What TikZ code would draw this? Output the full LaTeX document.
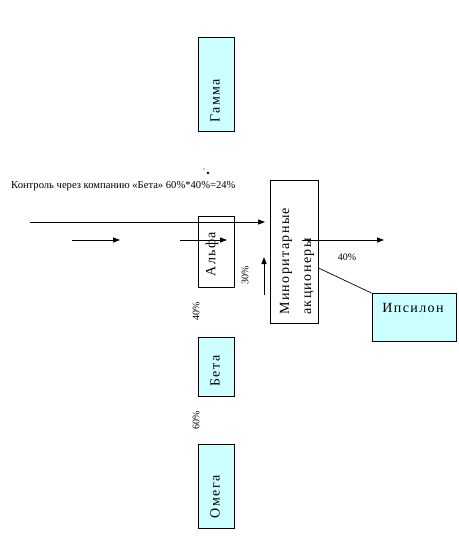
\documentclass[tikz,border=0pt]{standalone}
\usepackage{fontspec}
\setmainfont{Liberation Serif}
\newfontfamily\boxfont[LetterSpace=10]{Liberation Serif}
\usetikzlibrary{arrows.meta}
\definecolor{lcyan}{RGB}{204,255,255}
\tikzset{
  box/.style={draw=black, line width=0.9pt, inner sep=0pt},
  cbox/.style={box, fill=lcyan},
  wbox/.style={box, fill=white},
  btext/.style={font=\boxfont\fontsize{14}{16}\selectfont, inner sep=0pt},
  pct/.style={font=\fontsize{10}{12}\selectfont, inner sep=0pt, rotate=90},
  arr/.style={line width=0.9pt, -{Triangle[length=7pt,width=5pt]}},
  thin/.style={line width=0.7pt}
}
\begin{document}
\begin{tikzpicture}[x=1pt,y=-1pt]
\useasboundingbox (0,0) rectangle (458,541);
% boxes
\node[cbox, minimum width=36pt, minimum height=94pt] (gamma) at (216,84) {};
\node[wbox, minimum width=36pt, minimum height=71pt] (alfa) at (216,251.5) {};
\node[cbox, minimum width=36pt, minimum height=59pt] (beta) at (216,366.5) {};
\node[cbox, minimum width=36pt, minimum height=84pt] (omega) at (216,486) {};
\node[wbox, minimum width=48pt, minimum height=143pt] (mino) at (294.5,251.5) {};
\node[cbox, minimum width=84pt, minimum height=48pt] (ips) at (414,317.5) {};
% box texts
\node[btext, rotate=90] (tgamma) at (215,101) {Гамма};
\node[btext, rotate=90] (talfa) at (212,254) {Альфа};
\node[btext, rotate=90] (tbeta) at (215,371) {Бета};
\node[btext, rotate=90] (tomega) at (215,497) {Омега};
\node[btext, rotate=90, anchor=base west] (tmino1) at (289,315) {Миноритарные};
\node[btext, rotate=90, anchor=base west] (tmino2) at (311,315) {акционеры};
\node[btext] (tips) at (413,308) {Ипсилон};
% labels
\node[font=\fontsize{10.6}{12}\selectfont, inner sep=0pt, anchor=west] (ctrl) at (11,186) {Контроль через компанию «Бета» 60\%*40\%=24\%};
\node[pct] (p30) at (245,275) {30\%};
\node[pct] (p40a) at (196,311) {40\%};
\node[pct] (p60) at (196,420) {60\%};
\node[font=\fontsize{10}{12}\selectfont, inner sep=0pt] (p40b) at (347,257) {40\%};
\fill (204,169) circle (0.6);
\fill (208,173) circle (1.3);
% connectors
\coordinate (a1s) at (30,222);
\draw[arr, shorten >=5pt] (a1s) -- (a1s -| mino.west);
\coordinate (a2s) at (72,240);
\coordinate (a2e) at (120,240);
\draw[arr] (a2s) -- (a2e);
\coordinate (a3s) at (180,240);
\coordinate (a3e) at (227,240);
\draw[arr] (a3s) -- (a3e);
\coordinate (a4s) at (264,295);
\coordinate (a4e) at (264,257);
\draw[arr] (a4s) -- (a4e);
\coordinate (a5s) at (302,240);
\coordinate (a5e) at (384,240);
\draw[arr] (a5s) -- (a5e);
\coordinate (l6s) at (318.5,268);
\draw[thin] (l6s) -- (ips.north west);
\end{tikzpicture}
\end{document}
